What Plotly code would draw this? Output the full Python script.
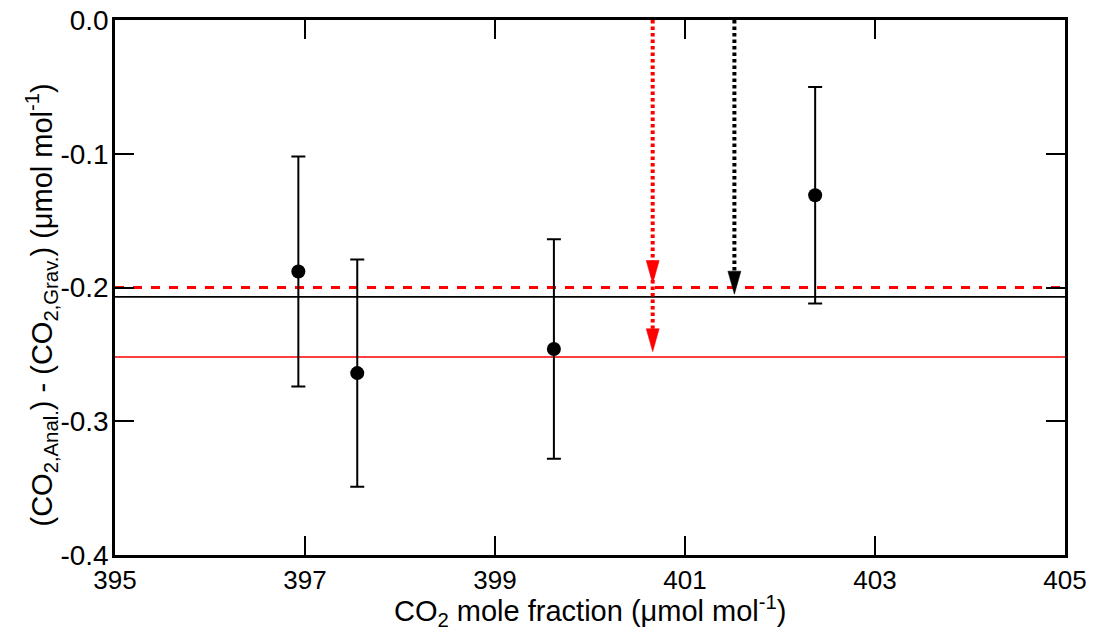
import plotly.graph_objects as go

# ---- data ----
co2_x = [396.93, 397.55, 399.62, 402.37]
diff_y = [-0.188, -0.264, -0.246, -0.131]
diff_err = [0.086, 0.085, 0.082, 0.081]

red_dashed_level = -0.200
black_solid_level = -0.207
red_solid_level = -0.252

red_arrow_x = 400.66
red_arrow_tips = [-0.197, -0.248]
black_arrow_x = 401.52
black_arrow_tips = [-0.205]

x_range = [395, 405]
y_range = [-0.4, 0.0]
x_ticks = [395, 397, 399, 401, 403, 405]
y_ticks = [0.0, -0.1, -0.2, -0.3, -0.4]
y_tick_labels = ["0.0", "-0.1", "-0.2", "-0.3", "-0.4"]

x_title = "CO<sub>2</sub> mole fraction (μmol mol<sup>-1</sup>)"
y_title = "(CO<sub>2,Anal.</sub>) - (CO<sub>2,Grav.</sub>) (μmol mol<sup>-1</sup>)"

# ---- layout geometry (page body has an 8px margin) ----
W, H = 1086, 626
ML, MR, MT, MB = 106.5, 29, 12.2, 78.5
plot_w = W - ML - MR
plot_h = H - MT - MB
dx_per_px = (x_range[1] - x_range[0]) / plot_w
dy_per_px = (y_range[1] - y_range[0]) / plot_h

head_half_w = 6.5 * dx_per_px
head_h = 23 * dy_per_px

fig = go.Figure()

# horizontal reference lines
for lvl, col, dash, wid in [
    (red_solid_level, "#ff0000", "solid", 1.6),
    (black_solid_level, "#000000", "solid", 1.6),
    (red_dashed_level, "#ff0000", "9px,9px", 3),
]:
    fig.add_trace(go.Scatter(x=x_range, y=[lvl, lvl], mode="lines",
                             line=dict(color=col, width=wid, dash=dash),
                             hoverinfo="skip", showlegend=False))

def add_arrow(xv, tips, color):
    bottom = min(tips) + head_h
    fig.add_trace(go.Scatter(x=[xv, xv], y=[y_range[1], bottom], mode="lines",
                             line=dict(color=color, width=4, dash="3.5px,3px"),
                             hoverinfo="skip", showlegend=False))
    for t in tips:
        fig.add_trace(go.Scatter(
            x=[xv - head_half_w, xv + head_half_w, xv, xv - head_half_w],
            y=[t + head_h, t + head_h, t, t + head_h],
            mode="lines", fill="toself", fillcolor=color,
            line=dict(color=color, width=0.5),
            hoverinfo="skip", showlegend=False))

add_arrow(red_arrow_x, red_arrow_tips, "#ff0000")
add_arrow(black_arrow_x, black_arrow_tips, "#000000")

# data points with error bars
fig.add_trace(go.Scatter(
    x=co2_x, y=diff_y, mode="markers",
    marker=dict(color="black", size=14, symbol="circle"),
    error_y=dict(type="data", array=diff_err, visible=True,
                 color="black", thickness=2, width=7),
    showlegend=False))

font_family = "Liberation Sans, Arial, sans-serif"

fig.update_layout(
    width=W, height=H,
    margin=dict(l=ML, r=MR, t=MT, b=MB, pad=0, autoexpand=False),
    paper_bgcolor="white", plot_bgcolor="white",
    font=dict(family=font_family, size=26, color="black"),
    xaxis=dict(
        range=x_range, tickvals=x_ticks, ticktext=[str(v) for v in x_ticks],
        showgrid=False, zeroline=False, automargin=False,
        showline=True, linecolor="black", linewidth=2.5, mirror="ticks",
        ticks="inside", ticklen=19, tickwidth=2, tickcolor="black",
        ticklabeloverflow="allow",
        tickfont=dict(size=26),
    ),
    yaxis=dict(
        range=y_range, tickvals=y_ticks, ticktext=y_tick_labels,
        showgrid=False, zeroline=False, automargin=False,
        showline=True, linecolor="black", linewidth=2.5, mirror="ticks",
        ticks="inside", ticklen=19, tickwidth=2, tickcolor="black",
        ticklabelstandoff=-2, ticklabeloverflow="allow",
        tickfont=dict(size=28),
    ),
    annotations=[
        dict(text=x_title, xref="paper", yref="paper", x=0.5, y=0,
             xanchor="center", yanchor="middle", yshift=-56, showarrow=False,
             font=dict(size=29)),
        dict(text=y_title, xref="paper", yref="paper", x=0, y=0.5,
             xanchor="center", yanchor="middle", xshift=-74, yshift=-18,
             textangle=-90, showarrow=False, font=dict(size=29)),
    ],
)

fig.write_html("out.html")
